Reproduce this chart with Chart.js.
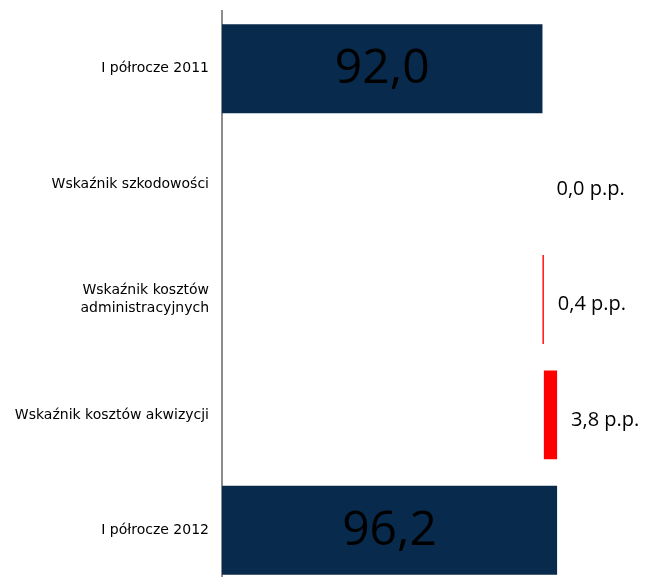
<!DOCTYPE html>
<html>
<head>
<meta charset="utf-8">
<script src="https://cdn.jsdelivr.net/npm/chart.js@4/dist/chart.umd.min.js"></script>
<style>
  html, body { margin: 0; padding: 0; background: #fff; overflow: hidden; }
  #wrap { width: 649px; height: 588px; position: relative; }
</style>
</head>
<body>
<div id="wrap"><canvas id="c"></canvas></div>
<script>
// ---- data ----
const categories = [
  'I półrocze 2011',
  'Wskaźnik szkodowości',
  ['Wskaźnik kosztów', 'administracyjnych'],
  'Wskaźnik kosztów akwizycji',
  'I półrocze 2012'
];
const values = [92.0, 0.0, 0.4, 3.8, 96.2];
const isTotal = [true, false, false, false, true];
const totalColor = '#082A4D';
const changeColor = '#FF0000';

// floating ranges for waterfall
const ranges = [];
let running = 0;
values.forEach((v, i) => {
  if (isTotal[i]) { ranges.push([0, v]); running = v; }
  else { ranges.push([running, running + v]); running += v; }
});

const fmt = v => v.toFixed(1).replace('.', ',');

const labelPlugin = {
  id: 'valueLabels',
  afterDatasetsDraw(chart) {
    const ctx = chart.ctx;
    const meta = chart.getDatasetMeta(0);
    meta.data.forEach((el, i) => {
      ctx.save();
      ctx.fillStyle = '#000';
      if (isTotal[i]) {
        ctx.font = '48px "Open Sans"';
        ctx.textAlign = 'center';
        ctx.textBaseline = 'middle';
        ctx.fillText(fmt(values[i]), (el.x + el.base) / 2, el.y + 1);
      } else {
        ctx.font = '20px "Open Sans"';
        ctx.textAlign = 'left';
        ctx.textBaseline = 'middle';
        ctx.fillText(fmt(values[i]) + ' p.p.', Math.max(el.x, el.base) + 14, el.y + 5);
      }
      ctx.restore();
    });
  }
};

new Chart(document.getElementById('c'), {
  type: 'bar',
  data: {
    labels: categories,
    datasets: [{
      data: ranges,
      backgroundColor: values.map((v, i) => isTotal[i] ? totalColor : changeColor),
      borderWidth: 0,
      barPercentage: 0.77,
      categoryPercentage: 1.0
    }]
  },
  options: {
    indexAxis: 'y',
    responsive: true,
    maintainAspectRatio: false,
    animation: false,
    layout: { padding: { top: 11, bottom: 0, left: 0, right: 9 } },
    plugins: { legend: { display: false }, tooltip: { enabled: false } },
    scales: {
      x: {
        display: false,
        min: 0,
        max: 120
      },
      y: {
        grid: { display: false, drawTicks: false },
        border: { display: true, color: '#8c8c8c', width: 2 },
        ticks: {
          color: '#000',
          padding: 13,
          font: { family: '"DejaVu Sans"', size: 14, lineHeight: 1.3 }
        },
        afterFit(scale) {
          scale.width = 222;
          scale.paddingTop = 0;
          scale.paddingBottom = 0;
        }
      }
    }
  },
  plugins: [labelPlugin]
});
</script>
</body>
</html>
